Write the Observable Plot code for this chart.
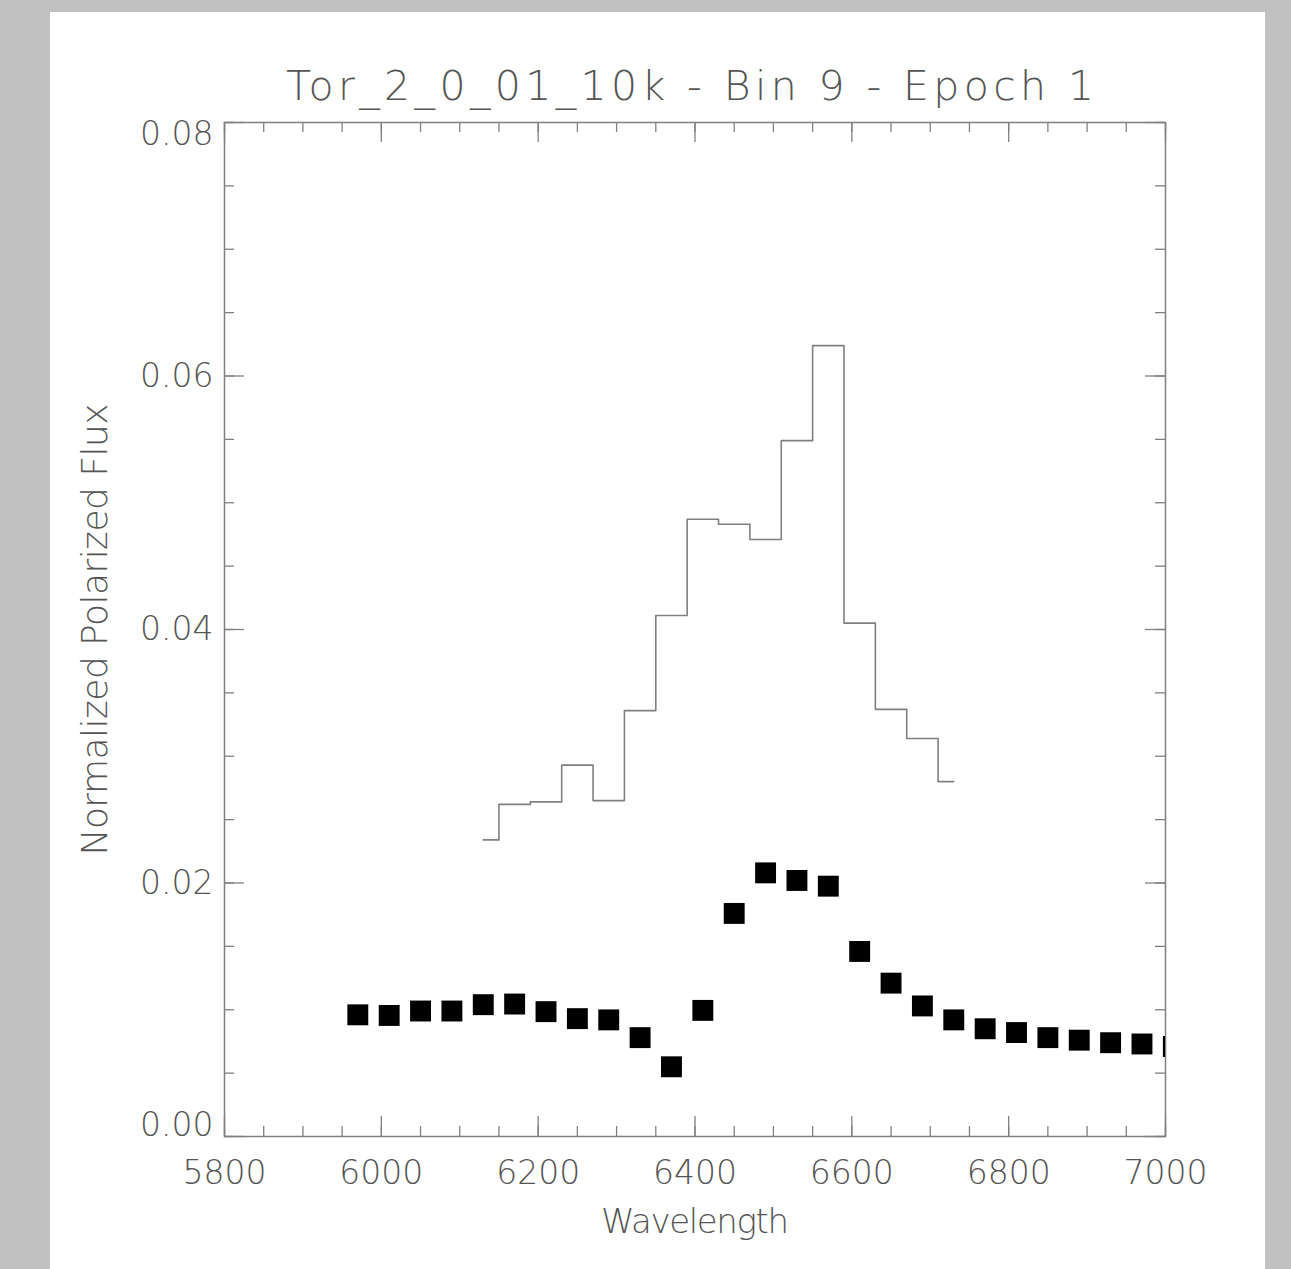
<!DOCTYPE html>
<html><head><meta charset="utf-8">
<script src="https://cdn.jsdelivr.net/npm/d3@7"></script>
<script src="https://cdn.jsdelivr.net/npm/@observablehq/plot@0.6"></script>
<style>
html,body{margin:0;padding:0;overflow:hidden;}
body{width:1291px;height:1269px;background:#c1c1c1;position:relative;font-family:"DejaVu Sans",sans-serif;}
#panel{position:absolute;left:50px;top:12px;width:1215px;height:1257px;background:#fff;}
#title{position:absolute;left:0;width:1380px;top:66px;text-align:center;font-size:41px;line-height:41px;color:#555;white-space:nowrap;font-weight:200;}
#title span{display:inline-block;}
#chart{position:absolute;left:0;top:0;}
</style></head>
<body>
<div id="panel"></div>
<div id="title"><span id="tt">Tor_2_0_01_10k - Bin 9 - Epoch 1</span></div>
<div id="chart"></div>
<script>
// Histogram (step) series
const stepWavelength = [6130, 6170, 6210, 6250, 6290, 6330, 6370, 6410, 6450, 6490, 6530, 6570, 6610, 6650, 6690, 6730];
const stepFlux = [0.0234, 0.0262, 0.0264, 0.0293, 0.0265, 0.0336, 0.0411, 0.0487, 0.0483, 0.0471, 0.0549, 0.0624, 0.0405, 0.0337, 0.0314, 0.0280];
// Square-marker series
const pointWavelength = [5970, 6010, 6050, 6090, 6130, 6170, 6210, 6250, 6290, 6330, 6370, 6410, 6450, 6490, 6530, 6570, 6610, 6650, 6690, 6730, 6770, 6810, 6850, 6890, 6930, 6970, 7010];
const pointFlux = [0.0096, 0.00955, 0.0099, 0.0099, 0.0104, 0.01045, 0.00985, 0.0093, 0.0092, 0.0078, 0.0055, 0.00995, 0.0176, 0.0208, 0.0202, 0.01975, 0.0146, 0.0121, 0.0103, 0.0092, 0.0085, 0.0082, 0.0078, 0.0076, 0.0074, 0.0073, 0.0071];
// Ticks
const xMajorTicks = [5800, 6000, 6200, 6400, 6600, 6800, 7000];
const xMinorTicks = d3.range(5800, 7001, 50);
const yMajorTicks = [0, 0.02, 0.04, 0.06, 0.08];
const yMinorTicks = d3.range(0, 17).map(i => i * 0.005);
const yMiddleLabels = [0.02, 0.04, 0.06];
const yTopLabel = [0.08];
const yBottomLabel = [0];
const titleText = "Tor_2_0_01_10k - Bin 9 - Epoch 1";
const xLabel = "Wavelength";
const yLabel = "Normalized Polarized Flux";

const stepData = stepWavelength.map((w, i) => ({w, f: stepFlux[i]}));
const pointData = pointWavelength.map((w, i) => ({w, f: pointFlux[i]}));

const W = 1291, H = 1269;
const mL = 224, mR = 126, mT = 122, mB = 133;
const fw = W - mL - mR, fh = H - mT - mB;
const axisColor = "#808080";
const textColor = "#555";
const font = "DejaVu Sans";
const fmt = d3.format(".2f");
const yAxisOpts = {tickSize: 0, tickPadding: 11, tickFormat: fmt, fontSize: 33, fill: textColor, label: null, fontWeight: 200};

const plot = Plot.plot({
  width: W, height: H,
  marginLeft: mL, marginRight: mR, marginTop: mT, marginBottom: mB,
  style: {background: "transparent", fontFamily: font, color: textColor, overflow: "visible"},
  x: {domain: [5800, 7000]},
  y: {domain: [0, 0.08]},
  marks: [
    Plot.frame({stroke: axisColor, strokeWidth: 1.5}),
    Plot.ruleX(xMajorTicks, {x: d => d, insetTop: fh - 20, stroke: axisColor, strokeWidth: 1.3}),
    Plot.ruleX(xMajorTicks, {x: d => d, insetBottom: fh - 20, stroke: axisColor, strokeWidth: 1.3}),
    Plot.ruleX(xMinorTicks, {x: d => d, insetTop: fh - 10, stroke: axisColor, strokeWidth: 1.3}),
    Plot.ruleX(xMinorTicks, {x: d => d, insetBottom: fh - 10, stroke: axisColor, strokeWidth: 1.3}),
    Plot.ruleY(yMajorTicks, {y: d => d, insetRight: fw - 20, stroke: axisColor, strokeWidth: 1.3}),
    Plot.ruleY(yMajorTicks, {y: d => d, insetLeft: fw - 20, stroke: axisColor, strokeWidth: 1.3}),
    Plot.ruleY(yMinorTicks, {y: d => d, insetRight: fw - 10, stroke: axisColor, strokeWidth: 1.3}),
    Plot.ruleY(yMinorTicks, {y: d => d, insetLeft: fw - 10, stroke: axisColor, strokeWidth: 1.3}),
    Plot.axisX(xMajorTicks, {tickSize: 0, tickPadding: 24, tickFormat: d => String(d), fontSize: 33, fill: textColor, label: null, fontWeight: 200}),
    Plot.axisY(yMiddleLabels, yAxisOpts),
    Plot.axisY(yTopLabel, {...yAxisOpts, dy: 12}),
    Plot.axisY(yBottomLabel, {...yAxisOpts, dy: -11}),
    Plot.text([xLabel], {frameAnchor: "bottom", dy: 96, lineAnchor: "bottom", textAnchor: "middle", fontSize: 34, fill: textColor, fontWeight: 200}),
    Plot.text([yLabel], {frameAnchor: "left", dx: -118, rotate: -90, lineAnchor: "bottom", textAnchor: "middle", fontSize: 36, fill: textColor, fontWeight: 200}),
    Plot.line(stepData, {x: "w", y: "f", curve: "step", stroke: axisColor, strokeWidth: 1.6}),
    Plot.dot(pointData, {x: "w", y: "f", symbol: "square", r: 11.8, fill: "black", stroke: "none", clip: true})
  ]
});
document.getElementById("chart").appendChild(plot);

// fit label lengths to the reference
const fits = {[xLabel]: 188, [yLabel]: 452};
plot.querySelectorAll("text").forEach(t => {
  const s = t.textContent;
  if (fits[s]) { t.setAttribute("textLength", fits[s]); t.setAttribute("lengthAdjust", "spacing"); }
});
const tt = document.getElementById("tt");
const w0 = tt.getBoundingClientRect().width;
const n = titleText.length;
const ls = (808 - w0) / (n - 1);
tt.style.letterSpacing = ls + "px";
tt.style.marginRight = (-ls) + "px";
</script>
</body></html>
